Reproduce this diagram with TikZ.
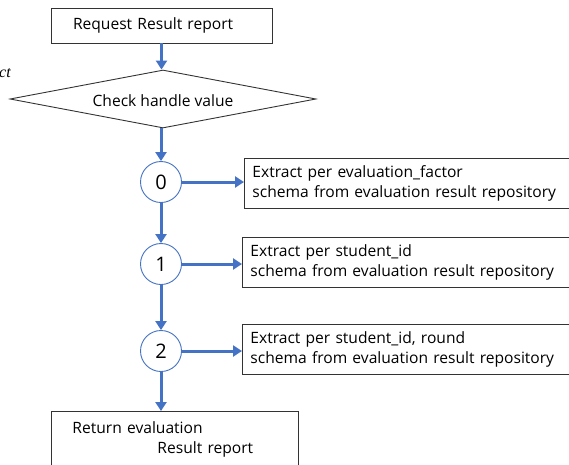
\documentclass[tikz,border=0pt]{standalone}
\usepackage{fontspec}
\setmainfont{Open Sans}
\newfontfamily\notefont{Liberation Serif}
\usetikzlibrary{shapes.geometric,arrows.meta}

\definecolor{flowblue}{RGB}{68,114,196}

\tikzset{
  box/.style={draw=black!80, line width=0.9pt, rectangle, align=left, inner xsep=8pt, inner ysep=0pt},
  handle/.style={draw=flowblue, line width=0.9pt, circle, fill=white, minimum size=41pt, inner sep=0pt,
    font=\fontsize{20}{22}\selectfont},
  flow/.style={flowblue, line width=3pt, -{Triangle[width=11pt,length=9pt]}},
}

\begin{document}
\begin{tikzpicture}[x=1pt,y=-1pt,font=\fontsize{15.6}{20}\selectfont]
\useasboundingbox (0,0) rectangle (569,464);
\clip (0,0) rectangle (569,464);

%Request
\node[box, text width=177pt, minimum height=35pt, inner xsep=22pt] (request) at (161.5,25.5) {Request Result report};

%Check handle value
\node[draw=black!80, line width=0.9pt, diamond, aspect=5, inner sep=0pt,
minimum width=306pt, minimum height=58pt, text height=15pt] (check) at (163,99) {Check handle value};

%Cut off label
\node[font=\fontsize{16}{18}\notefont\itshape, anchor=west, inner sep=0pt] (cut) at (-1,73) {ct};

%Handle values
\node[handle] (h0) at (161,182) {0};
\node[handle] (h1) at (161,264) {1};
\node[handle] (h2) at (161,351) {2};

%Extract boxes
\node[box, anchor=west, text width=360pt, minimum height=50pt] (e0) at (244,183) {Extract per evaluation\_factor\\schema from evaluation result repository};
\node[box, anchor=west, text width=360pt, minimum height=50pt] (e1) at (242,262) {Extract per student\_id\\schema from evaluation result repository};
\node[box, anchor=west, text width=360pt, minimum height=50pt] (e2) at (242,349) {Extract per student\_id, round\\schema from evaluation result repository};

%Return
\node[box, anchor=north west, text width=205pt, minimum height=56pt, inner xsep=21pt] (ret) at (51,411) {Return evaluation\\\hspace*{85pt}Result report};

%Arrows
\draw[flow] (request.south) -- (request.south |- check.north);
\draw[flow] (h0 |- check.south) -- (h0.north);
\draw[flow] (h0.south) -- (h1.north);
\draw[flow] (h1.south) -- (h2.north);
\draw[flow] (h2.south) -- (h2 |- ret.north);

\draw[flow] (h0.east) -- (e0.west |- h0.east);
\draw[flow] (h1.east) -- (e1.west |- h1.east);
\draw[flow] (h2.east) -- (e2.west |- h2.east);

\end{tikzpicture}
\end{document}
